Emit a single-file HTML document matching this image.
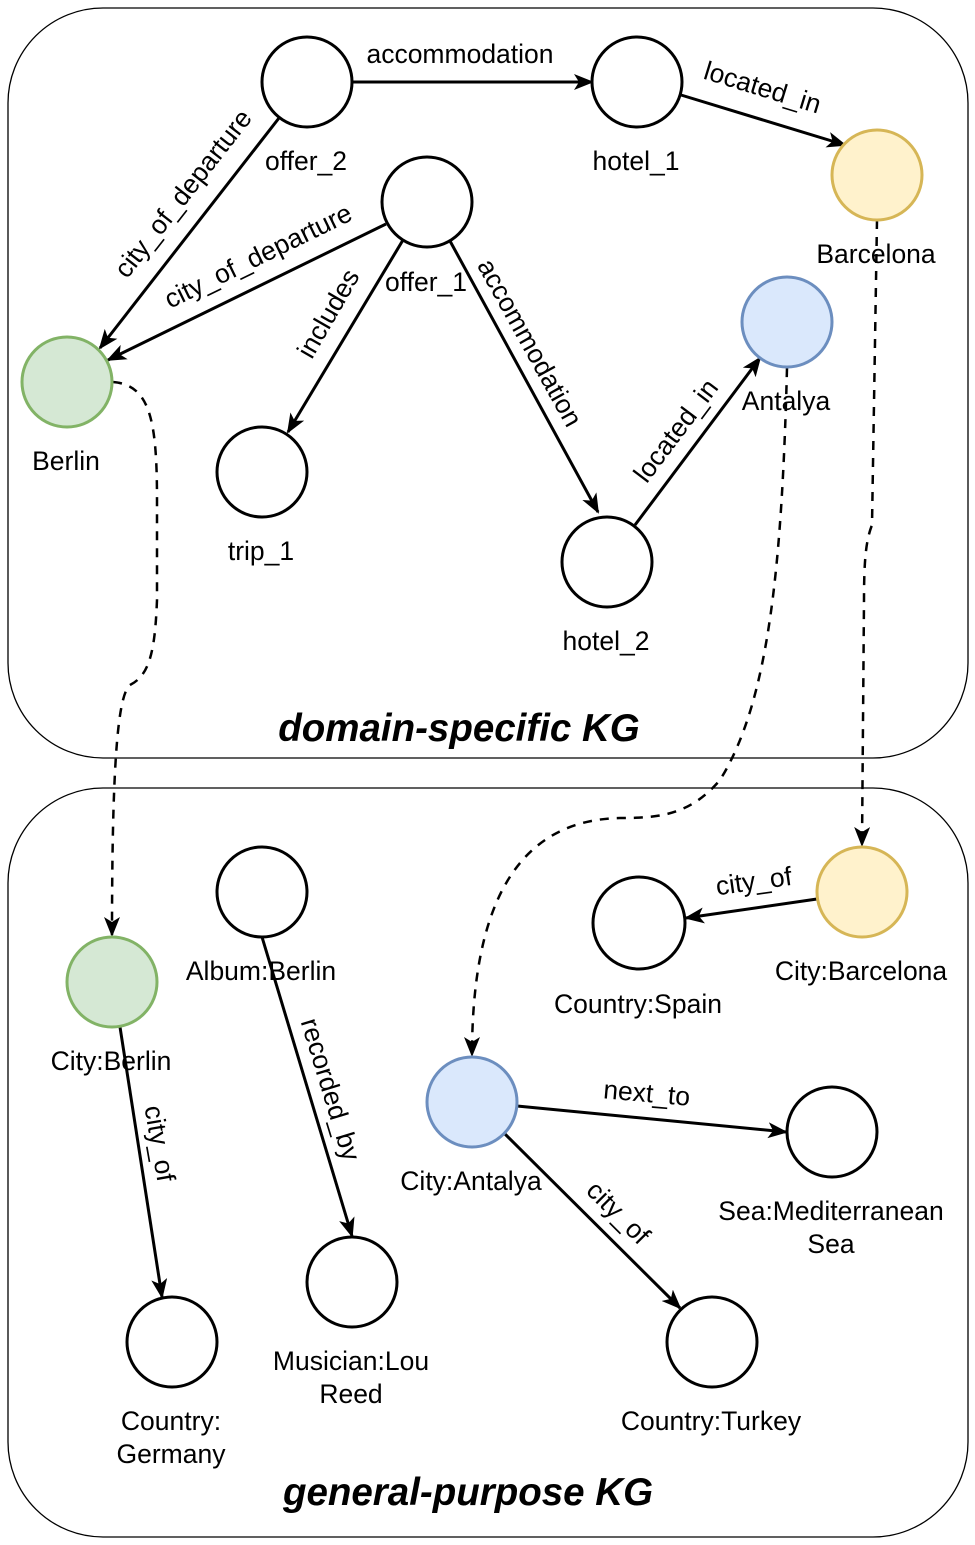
<!DOCTYPE html>
<html><head><meta charset="utf-8"><style>
html,body{margin:0;padding:0;background:#fff;}
svg{display:block;}
text{font-family:"Liberation Sans",sans-serif;font-size:26.5px;fill:#000;}
.t{font-size:38.5px;font-weight:bold;font-style:italic;}
</style></head><body>
<svg width="975" height="1545" viewBox="0 0 975 1545" xmlns="http://www.w3.org/2000/svg">
<defs>
<marker id="a" viewBox="0 0 20 16" refX="18" refY="8" markerWidth="20" markerHeight="16" markerUnits="userSpaceOnUse" orient="auto">
<path d="M0,0 L20,8 L0,16 L5,8 Z" fill="#000"/>
</marker>
</defs>
<rect x="8" y="8" width="960" height="750" rx="95" fill="none" stroke="#000" stroke-width="1.3"/>
<rect x="8" y="788" width="960" height="749" rx="95" fill="none" stroke="#000" stroke-width="1.3"/>
<g stroke="#000" stroke-width="3" fill="none" marker-end="url(#a)">
<line x1="352" y1="82" x2="592" y2="82"/>
<line x1="681" y1="95" x2="845" y2="145"/>
<line x1="279" y1="118" x2="100" y2="348"/>
<line x1="386" y1="224" x2="108" y2="360"/>
<line x1="403" y1="240" x2="288" y2="432"/>
<line x1="450" y1="241" x2="598" y2="512"/>
<line x1="635" y1="525" x2="760" y2="358"/>
<line x1="817" y1="899" x2="686" y2="918"/>
<line x1="120" y1="1027" x2="162" y2="1297"/>
<line x1="262" y1="937" x2="352" y2="1236"/>
<line x1="517" y1="1106" x2="786" y2="1132"/>
<line x1="505" y1="1134" x2="680" y2="1308"/>
</g>
<g stroke="#000" stroke-width="2.5" fill="none" stroke-dasharray="9,8" marker-end="url(#a)">
<path d="M113,382 C150,385 157,420 157,500 L157,600 C155,650 150,675 130,685 C118,695 112,760 112,935"/>
<path d="M877,220 L872,525 C866,540 864,560 864,600 L862,845"/>
<path d="M787,368 C782,560 770,700 720,780 C690,815 660,818 620,818 C520,820 472,900 472,1055"/>
</g>
<g stroke-width="3">
<circle cx="307" cy="82" r="45" fill="#fff" stroke="#000"/>
<circle cx="637" cy="82" r="45" fill="#fff" stroke="#000"/>
<circle cx="877" cy="175" r="45" fill="#fff2cc" stroke="#d6b656"/>
<circle cx="427" cy="202" r="45" fill="#fff" stroke="#000"/>
<circle cx="67" cy="382" r="45" fill="#d5e8d4" stroke="#82b366"/>
<circle cx="787" cy="322" r="45" fill="#dae8fc" stroke="#6c8ebf"/>
<circle cx="262" cy="472" r="45" fill="#fff" stroke="#000"/>
<circle cx="607" cy="562" r="45" fill="#fff" stroke="#000"/>
<circle cx="112" cy="982" r="45" fill="#d5e8d4" stroke="#82b366"/>
<circle cx="262" cy="892" r="45" fill="#fff" stroke="#000"/>
<circle cx="639" cy="923" r="46" fill="#fff" stroke="#000"/>
<circle cx="862" cy="892" r="45" fill="#fff2cc" stroke="#d6b656"/>
<circle cx="472" cy="1102" r="45" fill="#dae8fc" stroke="#6c8ebf"/>
<circle cx="832" cy="1132" r="45" fill="#fff" stroke="#000"/>
<circle cx="172" cy="1342" r="45" fill="#fff" stroke="#000"/>
<circle cx="352" cy="1282" r="45" fill="#fff" stroke="#000"/>
<circle cx="712" cy="1342" r="45" fill="#fff" stroke="#000"/>
</g>
<g text-anchor="middle">
<text x="306" y="170">offer_2</text>
<text x="636" y="170">hotel_1</text>
<text x="876" y="263">Barcelona</text>
<text x="426" y="291">offer_1</text>
<text x="66" y="470">Berlin</text>
<text x="786" y="410">Antalya</text>
<text x="261" y="560">trip_1</text>
<text x="606" y="650">hotel_2</text>
<text x="111" y="1070">City:Berlin</text>
<text x="261" y="980">Album:Berlin</text>
<text x="638" y="1013">Country:Spain</text>
<text x="861" y="980">City:Barcelona</text>
<text x="471" y="1190">City:Antalya</text>
<text x="831" y="1220">Sea:Mediterranean</text>
<text x="831" y="1253">Sea</text>
<text x="171" y="1430">Country:</text>
<text x="171" y="1463">Germany</text>
<text x="351" y="1370">Musician:Lou</text>
<text x="351" y="1403">Reed</text>
<text x="711" y="1430">Country:Turkey</text>
<text x="460" y="63">accommodation</text>
<text transform="translate(760,96) rotate(17)">located_in</text>
<text transform="translate(190,199) rotate(-52)">city_of_departure</text>
<text transform="translate(262,264) rotate(-26)">city_of_departure</text>
<text transform="translate(336,318) rotate(-60)">includes</text>
<text transform="translate(522,347) rotate(61)">accommodation</text>
<text transform="translate(683,436) rotate(-53)">located_in</text>
<text transform="translate(755,890) rotate(-8)">city_of</text>
<text transform="translate(151,1145) rotate(80)">city_of</text>
<text transform="translate(322,1092) rotate(73)">recorded_by</text>
<text transform="translate(646,1102) rotate(5)">next_to</text>
<text transform="translate(612,1219) rotate(45)">city_of</text>
<text class="t" x="459" y="741">domain-specific KG</text>
<text class="t" x="468" y="1505">general-purpose KG</text>
</g>
</svg>
</body></html>
